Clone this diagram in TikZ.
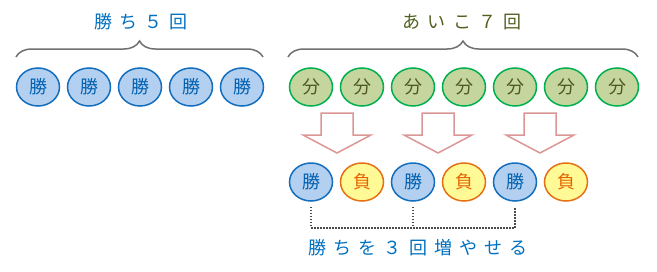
\documentclass[tikz,border=0pt]{standalone}
\usepackage{fontspec}
\setmainfont{Noto Sans CJK JP}
\newfontfamily\spacedjp[LetterSpace=40]{Noto Sans CJK JP}
\usetikzlibrary{shapes.geometric,decorations.pathreplacing}

\definecolor{winfill}{RGB}{180,208,240}
\definecolor{windraw}{RGB}{20,110,190}
\definecolor{wintext}{RGB}{0,96,176}
\definecolor{drawfill}{RGB}{196,214,158}
\definecolor{drawdraw}{RGB}{0,176,80}
\definecolor{drawtext}{RGB}{80,88,32}
\definecolor{losefill}{RGB}{255,250,150}
\definecolor{losedraw}{RGB}{230,112,20}
\definecolor{losetext}{RGB}{230,100,0}
\definecolor{arrowpink}{RGB}{220,150,150}
\definecolor{bracegray}{RGB}{112,112,112}
\definecolor{titleblue}{RGB}{0,112,192}
\definecolor{titleolive}{RGB}{80,96,32}

\begin{document}
\begin{tikzpicture}[
  x=1pt,y=-1pt,
  coin/.style={ellipse,draw,line width=1.5pt,minimum width=43pt,minimum height=38pt,
               inner sep=0pt,font=\fontsize{18}{18}\selectfont},
  win/.style={coin,fill=winfill,draw=windraw,text=wintext},
  tie/.style={coin,fill=drawfill,draw=drawdraw,text=drawtext},
  lose/.style={coin,fill=losefill,draw=losedraw,text=losetext},
  curly/.style={decorate,decoration={brace,amplitude=16pt},draw=bracegray,line width=1.5pt},
  bigarrow/.style={draw=arrowpink,fill=white,line width=1.5pt},
  title/.style={font=\spacedjp\fontsize{18}{18}\selectfont,inner sep=0pt},
  dots/.style={draw=black!70,line width=1.5pt,dash pattern=on 1.5pt off 1.5pt}
]
\useasboundingbox (0,0) rectangle (657,271);

% left group: five wins
\foreach \i in {1,...,5}
  \node[win] (w\i) at ({38+51*(\i-1)},87) {勝};
\draw[curly] (16,57) -- (263,57);
\node[title,text=titleblue] (wtitle) at (141,22) {勝ち５回};

% right group: seven draws
\foreach \i in {1,...,7}
  \node[tie] (d\i) at ({311+51*(\i-1)},87) {分};
\draw[curly] (288,57) -- (638,57);
\node[title,text=titleolive] (dtitle) at (462,22) {あいこ７回};

% block arrows
\foreach \t in {337,438,540}
  \draw[bigarrow] (\t-16,113) -- (\t+16,113) -- (\t+16,135) -- (\t+34,135)
    -- (\t,153) -- (\t-34,135) -- (\t-16,135) -- cycle;

% result row
\node[win]  (r1) at (311,182) {勝};
\node[lose] (r2) at (362,182) {負};
\node[win]  (r3) at (413,182) {勝};
\node[lose] (r4) at (464,182) {負};
\node[win]  (r5) at (515,182) {勝};
\node[lose] (r6) at (566,182) {負};

% dotted bracket
\coordinate (base) at ([yshift=-26pt]r1.south);
\draw[dots] ([yshift=-5pt]r1.south) -- (base) -| ([yshift=-5pt]r5.south);
\draw[dots] ([yshift=-5pt]r3.south) -- (r3.south |- base);
\node[title,text=titleblue] (result) at (418,248) {勝ちを３回増やせる};
\end{tikzpicture}
\end{document}
